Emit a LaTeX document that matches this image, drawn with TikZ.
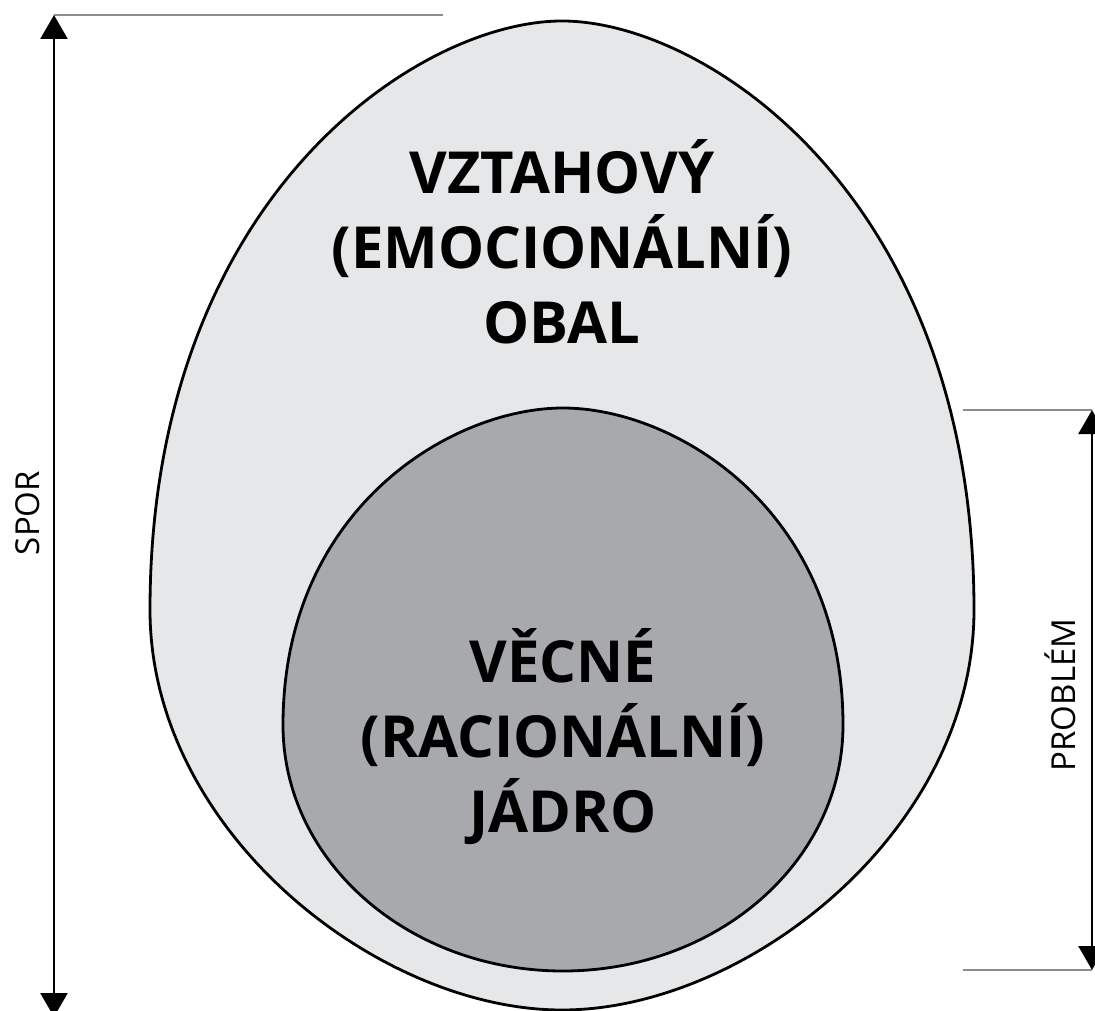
\documentclass[tikz,border=0pt]{standalone}
\usepackage{fontspec}
\setmainfont{Open Sans}
\usetikzlibrary{arrows.meta}
\definecolor{outerfill}{HTML}{E6E7E8}
\definecolor{innerfill}{HTML}{A7A9AC}
\definecolor{guide}{HTML}{8C8C8C}
\tikzset{
  eggline/.style={draw=black, line width=2.8pt},
  guideline/.style={draw=guide, line width=1.2pt},
  dimarrow/.style={draw=black, line width=2.5pt,
    {Triangle[length=24pt,width=27pt]}-{Triangle[length=24pt,width=27pt]}},
  bigtext/.style={font=\fontsize{58}{75}\selectfont\bfseries, align=center, anchor=base, inner sep=0pt},
  sidetext/.style={font=\fontsize{33}{40}\selectfont, rotate=90, anchor=base, inner sep=0pt}
}
\begin{document}
\begin{tikzpicture}[x=1pt,y=-1pt]
\useasboundingbox (0,0) rectangle (1095,1011);
% outer egg
\path[eggline, fill=outerfill]
  (562,21) .. controls (417.8,21) and (150,198) .. (150,610)
  .. controls (150,831) and (377.5,1010) .. (562,1010)
  .. controls (746.5,1010) and (974,831) .. (974,610)
  .. controls (974,198) and (706.2,21) .. (562,21) -- cycle;
% inner egg
\path[eggline, fill=innerfill]
  (563,408) .. controls (451,408) and (283,509) .. (283,725)
  .. controls (283,861) and (408,971) .. (563,971)
  .. controls (718,971) and (843,861) .. (843,725)
  .. controls (843,509) and (675,408) .. (563,408) -- cycle;
% texts (anchor base = baseline of the last line)
\node[bigtext] (outertext) at (562,343) {VZTAHOVÝ\\(EMOCIONÁLNÍ)\\OBAL};
\node[bigtext] (innertext) at (563,832) {VĚCNÉ\\(RACIONÁLNÍ)\\JÁDRO};
% SPOR dimension
\coordinate (sporTop) at (54,15);
\coordinate (sporBot) at (54,1017);
\coordinate (sporGuide) at (443,15);
\draw[guideline] (sporTop) -- (sporGuide);
\draw[dimarrow] (sporBot) -- (sporTop);
\node[sidetext] (spor) at (39,513) {SPOR};
% PROBLEM dimension
\coordinate (probTop) at (1092,410);
\coordinate (probBot) at (1092,970);
\coordinate (probTopGuide) at (963,410);
\coordinate (probBotGuide) at (963,970);
\draw[guideline] (probTopGuide) -- (probTop);
\draw[guideline] (probBotGuide) -- (probBot);
\draw[dimarrow] (probBot) -- (probTop);
\node[sidetext] (problem) at (1075,695) {PROBLÉM};
\end{tikzpicture}
\end{document}
